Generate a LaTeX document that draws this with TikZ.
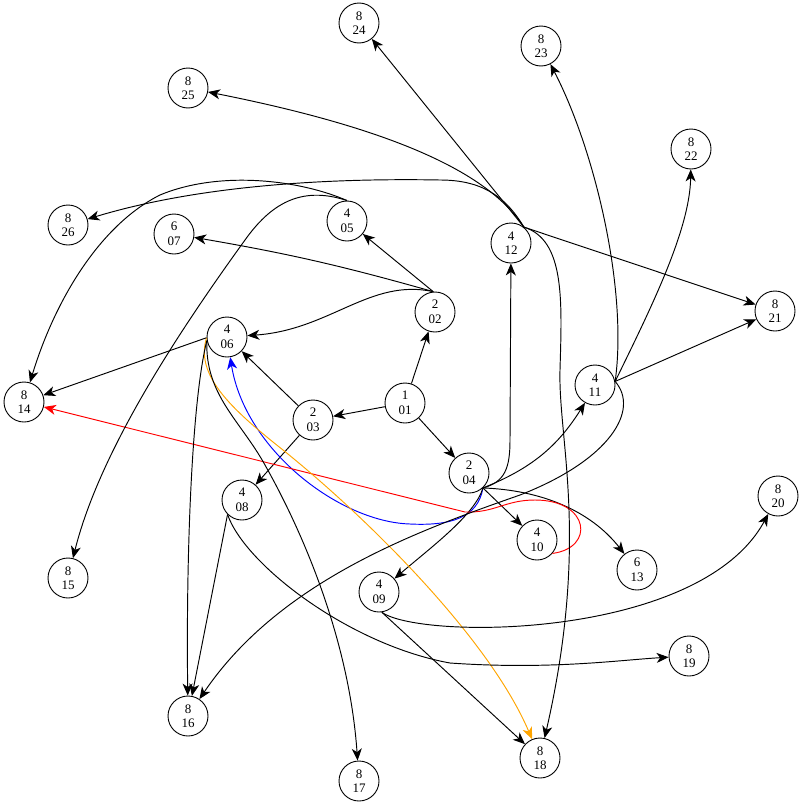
\documentclass[tikz,border=0pt]{standalone}
\usepackage{fontspec}
\setmainfont{Liberation Serif}
\usetikzlibrary{arrows.meta}
\definecolor{gvorange}{RGB}{255,165,0}
\begin{document}
\begin{tikzpicture}[x=1pt,y=-1pt,
  vtx/.style={circle,draw,line width=0.9pt,minimum size=40pt,inner sep=0pt,align=center,font=\fontsize{13}{14.5}\selectfont},
  edge/.style={line width=0.95pt,-{Stealth[length=12pt,width=10pt,inset=3.5pt]}}
]
\useasboundingbox (0,0) rectangle (800,806);
\node[vtx] (n01) at (405,403) {1\\01};
\node[vtx] (n02) at (435,312) {2\\02};
\node[vtx] (n03) at (313,420) {2\\03};
\node[vtx] (n04) at (469,473) {2\\04};
\node[vtx] (n05) at (347,221) {4\\05};
\node[vtx] (n06) at (227,337) {4\\06};
\node[vtx] (n07) at (174,234) {6\\07};
\node[vtx] (n08) at (242,500) {4\\08};
\node[vtx] (n09) at (379,592) {4\\09};
\node[vtx] (n10) at (537,540) {4\\10};
\node[vtx] (n11) at (595,385) {4\\11};
\node[vtx] (n12) at (511,243) {4\\12};
\node[vtx] (n13) at (637,570) {6\\13};
\node[vtx] (n14) at (24,402) {8\\14};
\node[vtx] (n15) at (68,578) {8\\15};
\node[vtx] (n16) at (188,716) {8\\16};
\node[vtx] (n17) at (359,781) {8\\17};
\node[vtx] (n18) at (540,758) {8\\18};
\node[vtx] (n19) at (689,656) {8\\19};
\node[vtx] (n20) at (778,496) {8\\20};
\node[vtx] (n21) at (775,311) {8\\21};
\node[vtx] (n22) at (691,149) {8\\22};
\node[vtx] (n23) at (541,46) {8\\23};
\node[vtx] (n24) at (359,23) {8\\24};
\node[vtx] (n25) at (188,88) {8\\25};
\node[vtx] (n26) at (68,225) {8\\26};

\draw[edge] (n01) -- (n02);
\draw[edge] (n01) -- (n03);
\draw[edge] (n01) -- (n04);
\draw[edge] (n02.95) -- (n05);
\draw[edge] (n02.95) to[bend right=3] (n07);
\draw[edge] (n02.95) .. controls (370,278) and (330,330) .. (n06);
\draw[edge] (n03) -- (n06);
\draw[edge] (n03) -- (n08);
\draw[edge,blue] (n04.-47) .. controls (478,518) and (450,526) .. (410,524) .. controls (340,522) and (245,450) .. (n06);
\draw[edge] (n04.-47) .. controls (475,515) and (430,548) .. (n09);
\draw[edge] (n04.-47) -- (n10);
\draw[edge] (n04.-47) to[bend right=18] (n11);
\draw[edge] (n04.-47) .. controls (505,482) and (510,468) .. (510,440) -- (n12);
\draw[edge] (n04.-47) .. controls (540,490) and (590,510) .. (n13);
\draw[edge,red] (n10.-41) .. controls (595,548) and (590,500) .. (535,500) .. controls (505,500) and (495,513) .. (465,512) -- (n14);
\draw[edge,gvorange] (n06.182) .. controls (195,375) and (230,408) .. (283,450) .. controls (370,520) and (490,640) .. (n18);
\draw[edge] (n06.182) -- (n14);
\draw[edge] (n06.190) .. controls (192,400) and (186,550) .. (n16);
\draw[edge] (n06.190) .. controls (205,395) and (240,420) .. (265,465) .. controls (310,545) and (350,650) .. (n17);
\draw[edge] (n08.-135) -- (n16);
\draw[edge] (n08.-135) .. controls (245,565) and (350,645) .. (450,663) .. controls (550,670) and (620,660) .. (n19);
\draw[edge] (n09.-82) -- (n18);
\draw[edge] (n09.-82) .. controls (420,640) and (700,640) .. (n20);
\draw[edge] (n11.10) -- (n21);
\draw[edge] (n11.10) .. controls (650,310) and (690,230) .. (n22);
\draw[edge] (n11.10) .. controls (628,290) and (595,150) .. (n23);
\draw[edge] (n11.10) .. controls (640,410) and (610,460) .. (520,495) .. controls (420,530) and (280,580) .. (n16);
\draw[edge] (n12.51) -- (n21);
\draw[edge] (n12.51) -- (n24);
\draw[edge] (n12.51) .. controls (490,175) and (400,130) .. (n25);
\draw[edge] (n12.51) .. controls (505,195) and (480,180) .. (440,180) .. controls (330,178) and (200,185) .. (n26);
\draw[edge] (n12.51) .. controls (565,240) and (562,300) .. (560,370) .. controls (558,440) and (590,540) .. (n18);
\draw[edge] (n05.north) .. controls (300,180) and (220,170) .. (160,195) .. controls (100,225) and (55,300) .. (n14);
\draw[edge] (n05.north) .. controls (300,185) and (270,205) .. (245,240) .. controls (180,330) and (100,450) .. (n15);
\end{tikzpicture}
\end{document}
